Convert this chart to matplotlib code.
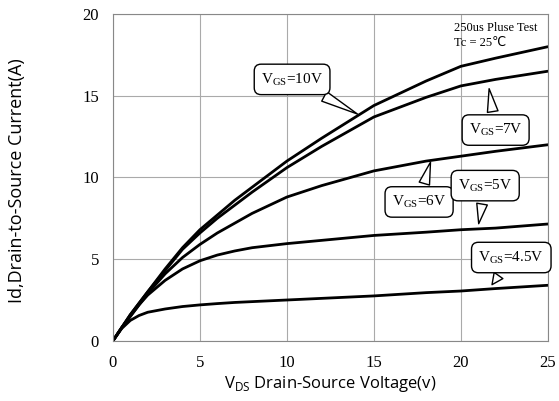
import numpy as np
import matplotlib.pyplot as plt

plt.rcParams['mathtext.fontset'] = 'custom'
plt.rcParams['mathtext.rm'] = 'Liberation Serif'
plt.rcParams['mathtext.sf'] = 'Open Sans'

vds = [0, 0.5, 1, 1.5, 2, 3, 4, 5, 6, 7, 8, 10, 12, 15, 18, 20, 22, 25]
id_10v = [0, 0.8, 1.6, 2.3, 3.0, 4.4, 5.7, 6.8, 7.7, 8.6, 9.4, 11.0, 12.4, 14.4, 15.9, 16.8, 17.3, 18.0]
id_7v = [0, 0.8, 1.6, 2.3, 3.0, 4.3, 5.6, 6.6, 7.5, 8.3, 9.1, 10.6, 11.9, 13.7, 14.9, 15.6, 16.0, 16.5]
id_6v = [0, 0.8, 1.5, 2.2, 2.9, 4.1, 5.1, 5.9, 6.6, 7.2, 7.8, 8.8, 9.5, 10.4, 11.0, 11.3, 11.6, 12.0]
id_5v = [0, 0.8, 1.5, 2.2, 2.8, 3.7, 4.4, 4.9, 5.25, 5.5, 5.7, 5.95, 6.15, 6.45, 6.65, 6.8, 6.9, 7.15]
id_45v = [0, 0.75, 1.25, 1.55, 1.75, 1.95, 2.1, 2.2, 2.28, 2.35, 2.4, 2.5, 2.6, 2.75, 2.95, 3.05, 3.2, 3.4]

curves = [id_10v, id_7v, id_6v, id_5v, id_45v]

labels = ['V$_{\\mathrm{GS}}$=10V', 'V$_{\\mathrm{GS}}$=7V', 'V$_{\\mathrm{GS}}$=6V',
          'V$_{\\mathrm{GS}}$=5V', 'V$_{\\mathrm{GS}}$=4.5V']
label_pos = [(10.3, 16.0), (22.0, 12.9), (17.6, 8.5), (21.4, 9.5), (22.9, 5.1)]
tail_tip = [(14.2, 13.8), (21.6, 15.6), (18.3, 11.1), (21.0, 7.0), (21.7, 3.3)]

fig = plt.figure(figsize=(5.59, 4.01), dpi=100)
ax = fig.add_axes([0.202, 0.150, 0.778, 0.815])

for c in curves:
    ax.plot(vds, c, color='black', lw=2, solid_capstyle='round', solid_joinstyle='round')

ax.set_xlim(0, 25)
ax.set_ylim(0, 20)
ax.set_xticks([0, 5, 10, 15, 20, 25])
ax.set_yticks([0, 5, 10, 15, 20])
ax.grid(True, color='#aaaaaa', lw=0.8)
ax.tick_params(length=0, pad=10)
for lab in ax.get_xticklabels() + ax.get_yticklabels():
    lab.set_fontfamily('Liberation Serif')
    lab.set_fontsize(12)
for s in ax.spines.values():
    s.set_color('#888888')
    s.set_linewidth(0.8)

for txt, pos, tip in zip(labels, label_pos, tail_tip):
    ax.annotate(txt, xy=tip, xytext=pos, ha='center', va='center',
                fontsize=11, family='Liberation Serif',
                bbox=dict(boxstyle='round,pad=0.45', fc='white', ec='black', lw=1),
                arrowprops=dict(arrowstyle='wedge,tail_width=0.7,shrink_factor=0.5',
                                fc='white', ec='black', lw=1))

ax.text(0.785, 0.975, '250us Pluse Test\nTc = 25\u2103', transform=ax.transAxes,
        ha='left', va='top', fontsize=9, family=['Liberation Serif', 'DejaVu Sans'],
        linespacing=1.3)

ax.set_xlabel('V$_{\\mathsf{DS}}$ Drain-Source Voltage(v)', fontsize=12,
              family='Open Sans', labelpad=2)
fig.text(0.03, 0.55, 'Id,Drain-to-Source Current(A)', rotation=90, ha='center',
         va='center', fontsize=13, family='Open Sans')

fig.savefig('out.png', dpi=100)
